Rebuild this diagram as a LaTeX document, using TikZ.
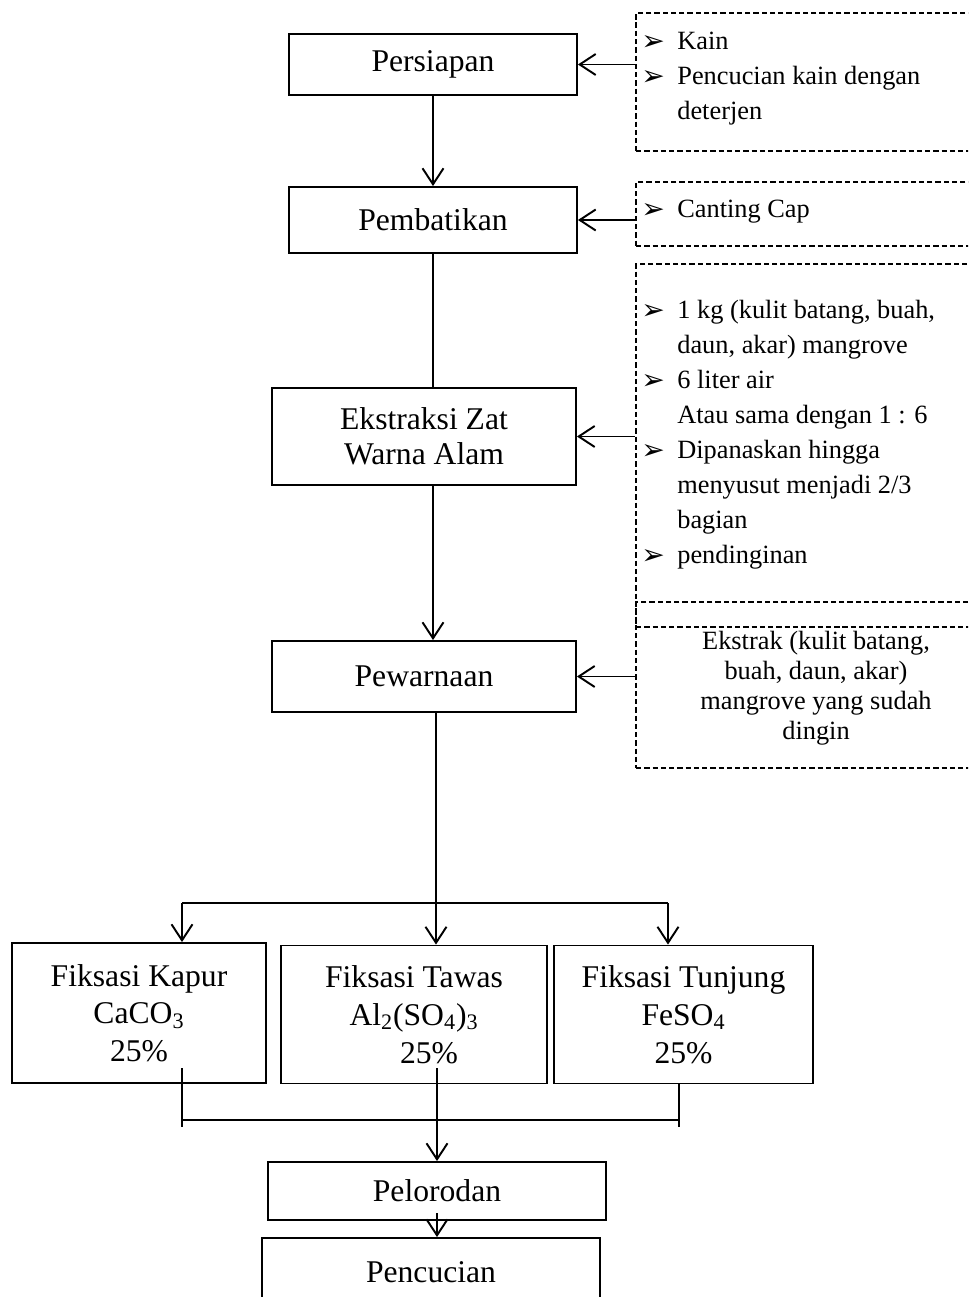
\documentclass[tikz,border=0pt]{standalone}
\usepackage{fontspec}
\setmainfont{Liberation Serif}
\newfontfamily\symfont{DejaVu Sans}
\usetikzlibrary{arrows.meta}
\newcommand{\butir}{\makebox[0.72cm][l]{\raisebox{-0.5pt}{\symfont\fontsize{16}{16}\selectfont ➢}}}
\newcommand{\kosong}{\hspace*{0.72cm}}

\begin{document}
\begin{tikzpicture}[x=0.02cm,y=-0.02cm]
\tikzset{proses/.style = {shape=rectangle,draw,line width=1.1pt,font=\fontsize{18}{20}\selectfont,align=center,inner sep=0pt}}
\tikzset{fiksasi/.style = {proses,font=\fontsize{18}{21.5}\selectfont,minimum height=2.76cm}}
\tikzset{bahan/.style = {shape=rectangle,draw,dash pattern=on 3pt off 1.7pt,line width=1.1pt,minimum width=7.28cm,inner sep=0pt}}
\tikzset{isi/.style = {font=\fontsize{15}{19.9}\selectfont,align=left,inner sep=0pt,anchor=north west}}
\tikzset{alur/.style = {-,line width=1.1pt,> = {Straight Barb[length=3.2mm,width=4.2mm]}}}
\useasboundingbox (0,0) rectangle (968,1297);
\clip (0,0) rectangle (968,1297);
% proses
\node[proses,minimum width=5.76cm,minimum height=1.22cm] (persiapan) at (433,64.5) {Persiapan};
\node[proses,minimum width=5.76cm,minimum height=1.32cm] (batik) at (433,220) {Pembatikan};
\node[proses,minimum width=6.08cm,minimum height=1.94cm] (ekstraksi) at (424,436.5) {Ekstraksi Zat\\Warna Alam};
\node[proses,minimum width=6.08cm,minimum height=1.42cm] (warna) at (424,676.5) {Pewarnaan};
\node[fiksasi,minimum width=5.08cm,minimum height=2.8cm] (kapur) at (139,1013) {Fiksasi Kapur\\CaCO\textsubscript{3}\\25\%};
\node[fiksasi,minimum width=5.32cm] (tawas) at (414,1014.5) {Fiksasi Tawas\\Al\textsubscript{2}(SO\textsubscript{4})\textsubscript{3}\\\hspace*{0.6cm}25\%};
\node[fiksasi,minimum width=5.18cm] (tunjung) at (683.5,1014.5) {Fiksasi Tunjung\\FeSO\textsubscript{4}\\25\%};
\node[proses,minimum width=6.76cm,minimum height=1.16cm] (pelorodan) at (437,1191) {Pelorodan};
\node[proses,minimum width=6.76cm,minimum height=1.36cm] (cuci) at (431,1272) {Pencucian};
% bahan
\node[bahan,minimum height=2.76cm] (kotak1) at (818,82) {};
\node[bahan,minimum height=1.28cm] (kotak2) at (818,214) {};
\node[bahan,minimum height=7.26cm] (kotak3) at (818,445.5) {};
\node[bahan,minimum height=3.32cm] (kotak4) at (818,685) {};
\node[isi] (isi1) at (641,32) {\butir Kain\\\butir Pencucian kain dengan\\\kosong deterjen};
\node[isi] (isi2) at (641,200) {\butir Canting Cap};
\node[isi] (isi3) at (641,300) {\butir 1 kg (kulit batang, buah,\\\kosong daun, akar) mangrove\\\butir 6 liter air\\\kosong Atau sama dengan 1 : 6\\\butir Dipanaskan hingga\\\kosong menyusut menjadi 2/3\\\kosong bagian\\\butir pendinginan};
\node[font=\fontsize{15}{17}\selectfont,align=center,inner sep=0pt] (isi4) at (816,688) {Ekstrak (kulit batang,\\buah, daun, akar)\\mangrove yang sudah\\dingin};
% alur
\draw[alur,->] (persiapan) -- (batik);
\draw[alur] (batik.south) -- (batik.south |- ekstraksi.north);
\draw[alur,->] (batik.south |- ekstraksi.south) -- (batik.south |- warna.north);
\coordinate (cabang) at (436,903);
\coordinate (cabangkiri) at (182,903);
\coordinate (cabangkanan) at (668,903);
\draw[alur] (cabang |- warna.south) -- (cabang);
\draw[alur] (cabangkiri) -- (cabangkanan);
\draw[alur,->] (cabangkiri) -- (cabangkiri |- kapur.north);
\draw[alur,->] (cabang) -- (cabang |- tawas.north);
\draw[alur,->] (cabangkanan) -- (cabangkanan |- tunjung.north);
\coordinate (ka1) at (182,1068);
\coordinate (ka2) at (182,1127);
\coordinate (ta1) at (437,1068);
\coordinate (tu2) at (679,1127);
\coordinate (gabungkiri) at (182,1120);
\coordinate (gabungkanan) at (679,1120);
\draw[alur] (ka1) -- (ka2);
\draw[alur] (tu2 |- tunjung.south) -- (tu2);
\draw[alur] (gabungkiri) -- (gabungkanan);
\draw[alur,->] (ta1) -- (ta1 |- pelorodan.north);
\coordinate (pe1) at (437,1213);
\draw[alur,->] (pe1) -- (pe1 |- cuci.north);
\draw[alur,->] (kotak1.west |- persiapan) -- (persiapan.east);
\draw[alur,->] (kotak2.west |- batik) -- (batik.east);
\draw[alur,->] (kotak3.west |- ekstraksi) -- (ekstraksi.east);
\draw[alur,->] (kotak4.west |- warna) -- (warna.east);
\end{tikzpicture}
\end{document}
